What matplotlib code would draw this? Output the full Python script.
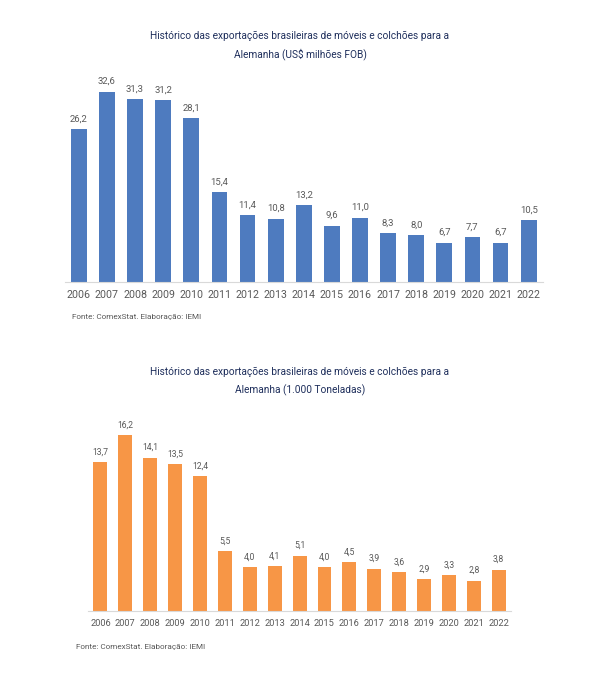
import matplotlib
matplotlib.use("Agg")
import matplotlib.pyplot as plt

plt.rcParams['font.family'] = ['Roboto', 'DejaVu Sans']

years = ["2006", "2007", "2008", "2009", "2010", "2011", "2012", "2013", "2014",
         "2015", "2016", "2017", "2018", "2019", "2020", "2021", "2022"]
usd_values = [26.2, 32.6, 31.3, 31.2, 28.1, 15.4, 11.4, 10.8, 13.2, 9.6, 11.0,
              8.3, 8.0, 6.7, 7.7, 6.7, 10.5]
ton_values = [13.7, 16.2, 14.1, 13.5, 12.4, 5.5, 4.0, 4.1, 5.1, 4.0, 4.5,
              3.9, 3.6, 2.9, 3.3, 2.8, 3.8]

title1 = ["Histórico das exportações brasileiras de móveis e colchões para a",
          "Alemanha (US$ milhões FOB)"]
title2 = ["Histórico das exportações brasileiras de móveis e colchões para a",
          "Alemanha (1.000 Toneladas)"]
source = "Fonte: ComexStat. Elaboração: IEMI"

W, H = 600, 686
fig = plt.figure(figsize=(6, 6.86), dpi=100)

title_color = "#1F2F5C"
text_color = "#595959"


def fx(px):
    return px / W


def fy(py):
    return 1 - py / H


def draw(ax, values, color, ymax, val_fs, year_fs):
    x = list(range(len(years)))
    ax.bar(x, values, width=0.56, color=color)
    ax.set_xlim(-0.5, len(years) - 0.5)
    ax.set_ylim(0, ymax)
    ax.set_xticks(x)
    ax.set_xticklabels(years, fontsize=year_fs, color=text_color)
    ax.tick_params(axis='x', length=0, pad=6)
    ax.set_yticks([])
    for s in ["top", "right", "left"]:
        ax.spines[s].set_visible(False)
    ax.spines["bottom"].set_color("#D9D9D9")
    ax.spines["bottom"].set_linewidth(0.8)
    for xi, v in zip(x, values):
        ax.annotate(f"{v:.1f}".replace(".", ","), (xi, v), xytext=(0, 4),
                    textcoords="offset points", ha="center", va="bottom",
                    fontsize=val_fs, color=text_color)


# Top chart
ax1 = fig.add_axes([fx(64.7), fy(281.7), fx(542.8 - 64.7), 36 * 5.83 / H])
draw(ax1, usd_values, "#4E7BBF", 36, 6.8, 7.7)

# Bottom chart
ax2 = fig.add_axes([fx(88.0), fy(611), fx(511.2 - 88.0), 18 * 10.88 / H])
draw(ax2, ton_values, "#F79646", 18, 6.2, 6.7)

fig.text(0.5, fy(36), title1[0], ha="center", va="center", fontsize=7.3, color=title_color)
fig.text(0.5, fy(54), title1[1], ha="center", va="center", fontsize=7.3, color=title_color)
fig.text(0.5, fy(372), title2[0], ha="center", va="center", fontsize=7.3, color=title_color)
fig.text(0.5, fy(390), title2[1], ha="center", va="center", fontsize=7.3, color=title_color)

fig.text(fx(72), fy(317), source, ha="left", va="center", fontsize=5.9, color=text_color)
fig.text(fx(75.5), fy(646.5), source, ha="left", va="center", fontsize=5.9, color=text_color)

fig.savefig("out.png", dpi=100, facecolor="white")
